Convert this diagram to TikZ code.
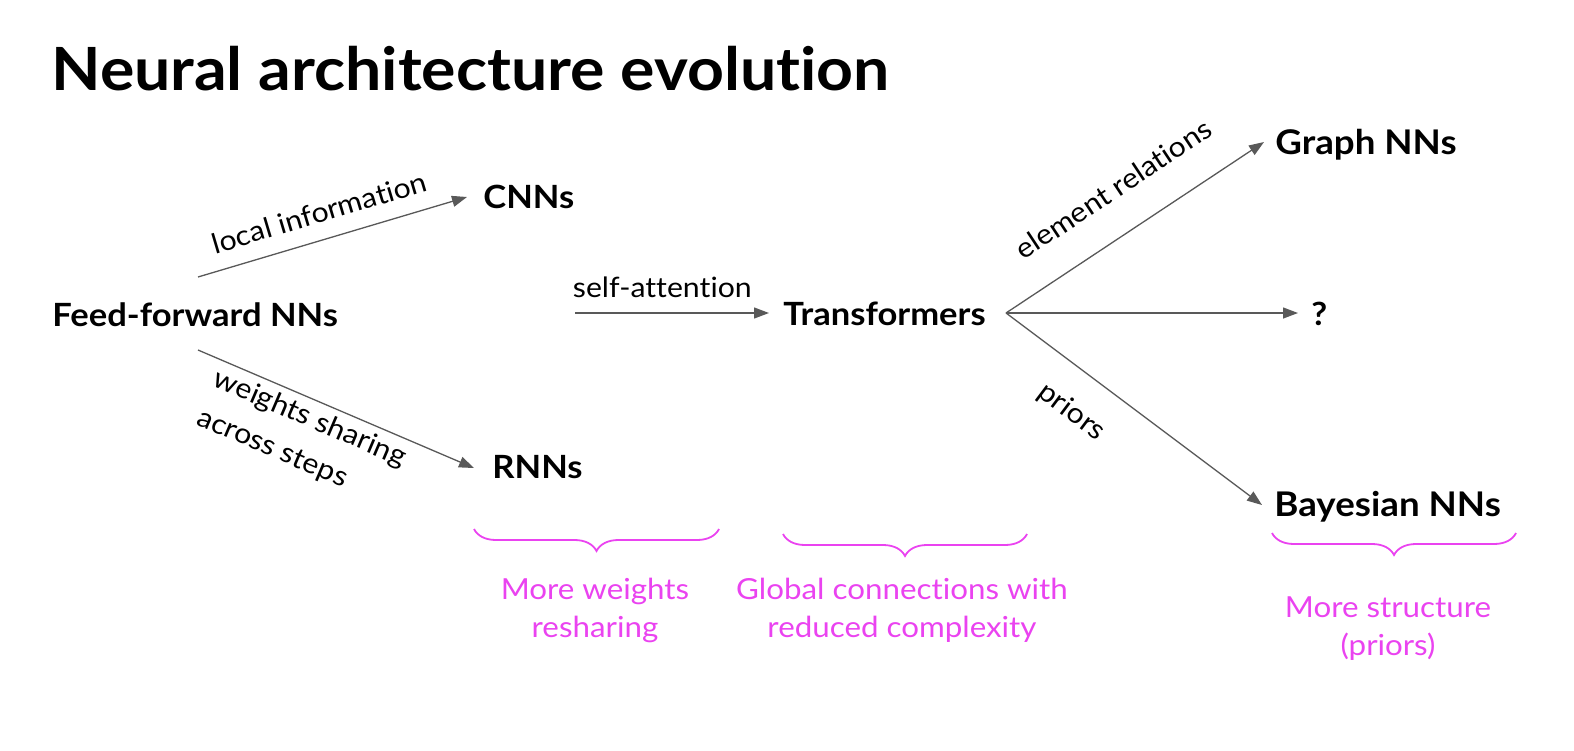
\documentclass[tikz,border=0pt]{standalone}
\usepackage{fontspec}
\setmainfont{Lato}[FakeStretch=1.08, Ligatures=NoCommon]
\usetikzlibrary{arrows.meta,decorations.pathreplacing}
\definecolor{linkgray}{RGB}{89,89,89}
\definecolor{notepink}{RGB}{234,67,240}
\tikzstyle{nn}=[anchor=base west, inner sep=0pt, font=\fontsize{16}{19}\selectfont\bfseries]
\tikzstyle{nnbig}=[nn, font=\fontsize{17}{20}\selectfont\bfseries]
\tikzstyle{link}=[-{Triangle[length=7.5pt,width=5.5pt]}, draw=linkgray, fill=linkgray, line width=0.65pt]
\tikzstyle{lbl}=[sloped, anchor=base, inner sep=0pt, font=\fontsize{14}{21}\selectfont]
\tikzstyle{note}=[align=center, text=notepink, inner sep=0pt, font=\fontsize{14.5}{19}\selectfont]
\tikzstyle{brc}=[draw=notepink, line width=0.9pt, decorate, decoration={brace, mirror, amplitude=11pt}]

\begin{document}
\begin{tikzpicture}[x=0.5pt, y=-0.5pt]
    \useasboundingbox (0,0) rectangle (1574,750);
    \node [nn, font=\fontsize{29.8}{34}\selectfont\bfseries] (title) at (51,90) {Neural architecture evolution};

    \node [nn] (ff) at (52,326) {Feed-forward NNs};
    \node [nn] (cnn) at (483,208) {CNNs};
    \node [nn] (rnn) at (492,478) {RNNs};
    \node [nn] (trans) at (783,325) {Transformers};
    \node [nnbig] (graph) at (1275,154) {Graph NNs};
    \node [nn] (q) at (1311,325) {?};
    \node [nnbig] (bayes) at (1274,516) {Bayesian NNs};
    \coordinate (sa) at (575,313);
    \coordinate (hub) at (1006,313);

    \draw [link] ([shift={(146,-49)}]ff.base west) -- ([shift={(-16,-11)}]cnn.base west)
        node [lbl, pos=0.48, yshift=8.5pt] {local information};
    \draw [link] ([shift={(146,24)}]ff.base west) -- ([shift={(-18,-10)}]rnn.base west)
        node [lbl, pos=0.44, anchor=north west, align=left, xshift=-53pt, yshift=-3pt] {weights sharing\\across steps};
    \draw [link] (sa) -- ([shift={(-14,-12)}]trans.base west)
        node [lbl, pos=0.45, yshift=8pt] {self-attention};
    \draw [link] (hub) -- ([shift={(-11,-12)}]graph.base west)
        node [lbl, pos=0.51, yshift=17pt] {element relations};
    \draw [link] (hub) -- ([shift={(-13,-12)}]q.base west);
    \draw [link] (hub) -- ([shift={(-12,-11)}]bayes.base west)
        node [lbl, pos=0.35, yshift=-24pt] {priors};

    % braces and what they sum up
    \draw [brc] (474,529) -- (719,529);
    \draw [brc] (783,534) -- (1027,534);
    \draw [brc] (1272,533) -- (1516,533);
    \node [note] (n1) at (595,610) {More weights\\resharing};
    \node [note] (n2) at (902,610) {Global connections with\\reduced complexity};
    \node [note] (n3) at (1388,629) {More structure\\(priors)};
\end{tikzpicture}
\end{document}
